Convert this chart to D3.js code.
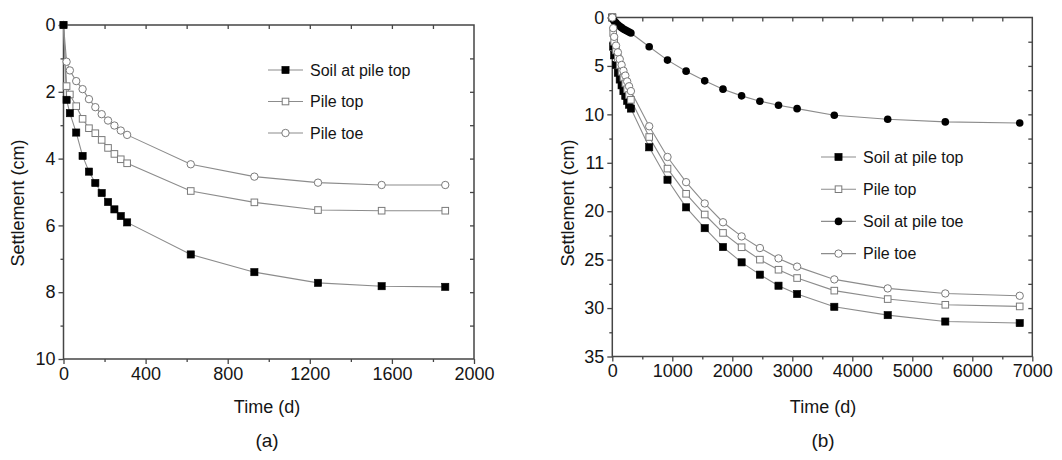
<!DOCTYPE html>
<html><head><meta charset="utf-8">
<script src="https://cdn.jsdelivr.net/npm/d3@7"></script>
<style>
body{margin:0;background:#fff;}
svg{display:block;font-family:"Liberation Sans",Arial,sans-serif;}
</style></head>
<body><svg id="c" width="1062" height="460"></svg>
<script>
// ---------- Panel (a) data ----------
const timeA = [0, 15, 31, 62, 93, 124, 155, 186, 217, 248, 279, 310, 620, 930, 1240, 1550, 1860];
const soilTopA = [0, 2.24, 2.64, 3.22, 3.92, 4.39, 4.73, 5.03, 5.30, 5.52, 5.72, 5.91, 6.87, 7.40, 7.72, 7.82, 7.84];
const pileTopA = [0, 1.83, 2.08, 2.43, 2.81, 3.09, 3.24, 3.44, 3.68, 3.86, 4.02, 4.14, 4.97, 5.31, 5.54, 5.56, 5.56];
const pileToeA = [0, 1.10, 1.36, 1.68, 1.92, 2.22, 2.46, 2.67, 2.86, 3.01, 3.16, 3.29, 4.17, 4.54, 4.72, 4.79, 4.79];
const xTicksA = [0, 400, 800, 1200, 1600, 2000];
const yTicksA = [0, 2, 4, 6, 8, 10];
const yTickLabelsA = ["0", "2", "4", "6", "8", "10"];

// ---------- Panel (b) data ----------
const timeB = [0, 15, 31, 62, 93, 124, 155, 186, 217, 248, 279, 310, 615, 920, 1230, 1540, 1845, 2155, 2460, 2770, 3080, 3700, 4590, 5550, 6790];
const soilTopB = [0, 3.0, 3.9, 4.9, 5.7, 6.4, 7.0, 7.6, 8.1, 8.6, 9.0, 9.4, 13.4, 16.75, 19.6, 21.75, 23.7, 25.28, 26.55, 27.69, 28.55, 29.87, 30.73, 31.39, 31.55];
const pileTopB = [0, 1.6, 2.5, 3.4, 4.2, 4.9, 5.6, 6.2, 6.8, 7.4, 8.0, 8.5, 12.34, 15.6, 18.2, 20.34, 22.24, 23.72, 25.0, 26.04, 26.9, 28.2, 29.07, 29.66, 29.83];
const soilToeB = [0, 0.2, 0.35, 0.55, 0.75, 0.9, 1.05, 1.2, 1.3, 1.4, 1.5, 1.6, 3.02, 4.40, 5.54, 6.54, 7.40, 8.09, 8.64, 9.06, 9.41, 10.09, 10.51, 10.78, 10.89];
const pileToeB = [0, 1.1, 2.0, 2.9, 3.6, 4.3, 4.9, 5.5, 6.0, 6.6, 7.1, 7.6, 11.23, 14.4, 17.0, 19.2, 21.14, 22.6, 23.8, 24.87, 25.72, 27.04, 27.97, 28.49, 28.73];
const xTicksB = [0, 1000, 2000, 3000, 4000, 5000, 6000, 7000];
const yTicksB = [0, 5, 10, 15, 20, 25, 30, 35];
const yTickLabelsB = ["0", "5", "10", "11", "20", "25", "30", "35"];

const labels = {
  soilTop: "Soil at pile top", pileTop: "Pile top", soilToe: "Soil at pile toe", pileToe: "Pile toe",
  xTitle: "Time (d)", yTitle: "Settlement (cm)"
};

const svg = d3.select("#c");
const AXC = "#454545", LINEC = "#8c8c8c", TXT = "#151515";

function marker(g, type, x, y) {
  const s = 7.2;
  if (type === "sqFill") g.append("rect").attr("x", x - s/2).attr("y", y - s/2).attr("width", s).attr("height", s).attr("fill", "#000").attr("stroke", "#000").attr("stroke-width", 0.6);
  else if (type === "sqOpen") g.append("rect").attr("x", x - 3.3).attr("y", y - 3.3).attr("width", 6.6).attr("height", 6.6).attr("fill", "#fff").attr("stroke", "#7a7a7a").attr("stroke-width", 1);
  else if (type === "ciFill") g.append("circle").attr("cx", x).attr("cy", y).attr("r", 3.8).attr("fill", "#000");
  else g.append("circle").attr("cx", x).attr("cy", y).attr("r", 3.7).attr("fill", "#fff").attr("stroke", "#7a7a7a").attr("stroke-width", 1);
}

function panel(cfg) {
  const {x0, x1, y0, y1, xMax, yMax, xTicks, xMinor, yTicks, yLabels, yMinor, topTicks, rightTicks, series, legend, yTitleX, xTitleX, tag} = cfg;
  const x = d3.scaleLinear().domain([0, xMax]).range([x0, x1]);
  const y = d3.scaleLinear().domain([0, yMax]).range([y0, y1]);
  const g = svg.append("g");

  const styleAxis = sel => {
    sel.select(".domain").remove();
    sel.selectAll(".tick line").attr("stroke", AXC).attr("stroke-width", 1.3);
    sel.selectAll(".tick text").attr("fill", TXT).attr("font-size", 18).attr("font-family", "Liberation Sans, Arial, sans-serif");
  };

  // minor ticks
  g.append("g").attr("transform", `translate(0,${y1})`).call(d3.axisBottom(x).tickValues(xMinor).tickSize(3).tickFormat("")).call(styleAxis);
  g.append("g").attr("transform", `translate(${x0},0)`).call(d3.axisLeft(y).tickValues(yMinor).tickSize(3).tickFormat("")).call(styleAxis);
  // major ticks
  g.append("g").attr("transform", `translate(0,${y1})`).call(d3.axisBottom(x).tickValues(xTicks).tickSize(5).tickPadding(3).tickFormat(d3.format("d"))).call(styleAxis);
  g.append("g").attr("transform", `translate(${x0},0)`).call(d3.axisLeft(y).tickValues(yTicks).tickSize(5).tickPadding(3).tickFormat((d, i) => yLabels[i])).call(styleAxis);
  // mirror ticks (inward)
  g.append("g").attr("transform", `translate(0,${y0})`).call(d3.axisBottom(x).tickValues(topTicks).tickSize(4).tickFormat("")).call(styleAxis);
  g.append("g").attr("transform", `translate(${x1},0)`).call(d3.axisLeft(y).tickValues(rightTicks).tickSize(4).tickFormat("")).call(styleAxis);

  // frame
  g.append("rect").attr("x", x0).attr("y", y0).attr("width", x1 - x0).attr("height", y1 - y0)
    .attr("fill", "none").attr("stroke", AXC).attr("stroke-width", 1.5);

  // series
  const line = d3.line().x(d => x(d[0])).y(d => y(d[1]));
  series.forEach(s => {
    const pts = s.t.map((t, i) => [t, s.v[i]]);
    g.append("path").attr("d", line(pts)).attr("fill", "none").attr("stroke", LINEC).attr("stroke-width", 1.1);
  });
  series.forEach(s => {
    const mg = g.append("g");
    s.t.forEach((t, i) => marker(mg, s.type, x(t), y(s.v[i])));
  });

  // legend
  legend.items.forEach((it, i) => {
    const cy = legend.y + i * legend.dy;
    g.append("line").attr("x1", legend.x).attr("x2", legend.x + 35).attr("y1", cy).attr("y2", cy).attr("stroke", LINEC).attr("stroke-width", 1.1);
    marker(g, it.type, legend.x + 17.5, cy);
    g.append("text").attr("x", legend.x + 42).attr("y", cy + 5.5).attr("font-size", 16).attr("fill", TXT).text(it.label);
  });

  // titles
  g.append("text").attr("x", xTitleX).attr("y", 413).attr("text-anchor", "middle").attr("font-size", 18).attr("fill", TXT).text(labels.xTitle);
  g.append("text").attr("transform", `translate(${yTitleX},203) rotate(-90)`).attr("text-anchor", "middle").attr("font-size", 18).attr("fill", TXT).text(labels.yTitle);
  g.append("text").attr("x", xTitleX).attr("y", 447).attr("text-anchor", "middle").attr("font-size", 19).attr("fill", TXT).text(tag);
}

panel({
  x0: 63.5, x1: 474, y0: 25, y1: 359, xMax: 2000, yMax: 10,
  xTicks: xTicksA, xMinor: d3.range(200, 2000, 400), yTicks: yTicksA, yLabels: yTickLabelsA, yMinor: d3.range(1, 10, 2),
  topTicks: d3.range(200, 2000, 200), rightTicks: d3.range(1, 10, 1),
  series: [
    {t: timeA, v: pileToeA, type: "ciOpen"},
    {t: timeA, v: pileTopA, type: "sqOpen"},
    {t: timeA, v: soilTopA, type: "sqFill"}
  ],
  legend: {x: 268, y: 70, dy: 31.5, items: [
    {type: "sqFill", label: labels.soilTop}, {type: "sqOpen", label: labels.pileTop}, {type: "ciOpen", label: labels.pileToe}]},
  yTitleX: 24, xTitleX: 267, tag: "(a)"
});

panel({
  x0: 612.3, x1: 1032.3, y0: 17.5, y1: 356.5, xMax: 7000, yMax: 35,
  xTicks: xTicksB, xMinor: d3.range(500, 7000, 1000), yTicks: yTicksB, yLabels: yTickLabelsB, yMinor: d3.range(2.5, 35, 5),
  topTicks: d3.range(500, 7000, 500), rightTicks: d3.range(2.5, 35, 2.5),
  series: [
    {t: timeB, v: soilTopB, type: "sqFill"},
    {t: timeB, v: pileTopB, type: "sqOpen"},
    {t: timeB, v: soilToeB, type: "ciFill"},
    {t: timeB, v: pileToeB, type: "ciOpen"}
  ],
  legend: {x: 821, y: 157, dy: 32.2, items: [
    {type: "sqFill", label: labels.soilTop}, {type: "sqOpen", label: labels.pileTop},
    {type: "ciFill", label: labels.soilToe}, {type: "ciOpen", label: labels.pileToe}]},
  yTitleX: 574, xTitleX: 823, tag: "(b)"
});
</script></body></html>
